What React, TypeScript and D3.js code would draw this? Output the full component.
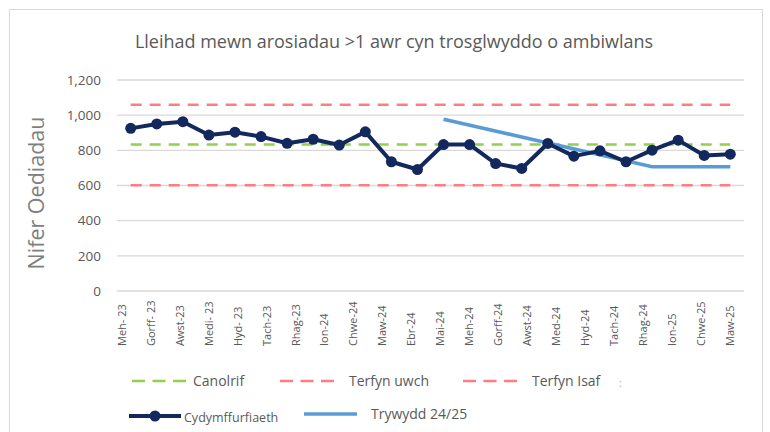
import { useEffect, useRef } from 'react';
import * as d3 from 'd3';

const TITLE = 'Lleihad mewn arosiadau >1 awr cyn trosglwyddo o ambiwlans';
const Y_TITLE = 'Nifer Oediadau';

const MONTHS = [
  'Meh- 23', 'Gorff- 23', 'Awst-23', 'Medi- 23', 'Hyd- 23', 'Tach-23', 'Rhag-23', 'Ion-24',
  'Chwe-24', 'Maw-24', 'Ebr-24', 'Mai-24', 'Meh-24', 'Gorff-24', 'Awst-24', 'Med-24',
  'Hyd-24', 'Tach-24', 'Rhag-24', 'Ion-25', 'Chwe-25', 'Maw-25',
];

// monthly compliance values (24 plotted points)
const VALUES = [
  925, 950, 963, 887, 903, 878, 840, 863, 830, 905, 735, 691,
  833, 833, 725, 697, 839, 767, 797, 735, 801, 858, 771, 778,
];

// trend 24/25: point index -> value
const TREND_IDX = [12, 20, 23];
const TREND_VALUES = [977, 707, 707];

const MEAN = 833;
const UPPER = 1059;
const LOWER = 602;

const Y_TICKS = [0, 200, 400, 600, 800, 1000, 1200];

const FONT = '"Open Sans", "Liberation Sans", sans-serif';
const TEXT = '#595959';
const NAVY = '#13285c';
const BLUE = '#5b9bd5';
const GREEN = '#92d050';
const RED = '#ff7c80';

export default function App() {
  const ref = useRef<SVGSVGElement>(null);

  useEffect(() => {
    if (!ref.current) return;
    const svg = d3.select(ref.current);
    svg.selectAll('*').remove();

    const W = 770, H = 432;
    svg.attr('width', W).attr('height', H).style('font-family', FONT);

    svg.append('rect').attr('width', W).attr('height', H).attr('fill', '#fff');
    svg.append('rect').attr('x', 9.5).attr('y', 9.5).attr('width', 753).attr('height', 430)
      .attr('fill', 'none').attr('stroke', '#d9d9d9');

    const plotLeft = 117, plotRight = 744;
    const y = d3.scaleLinear().domain([0, 1200]).range([291, 80]);
    const idx = VALUES.map((_, i) => i);
    const x = d3.scalePoint<number>().domain(idx).range([130.7, 730.3]);
    const xl = d3.scalePoint<string>().domain(MONTHS).range([121.7, 730]);

    // title
    svg.append('text').attr('x', 394).attr('y', 48).attr('text-anchor', 'middle')
      .attr('fill', TEXT).attr('font-size', 18).text(TITLE);

    // grid + y labels
    const grid = svg.append('g');
    Y_TICKS.forEach(t => {
      grid.append('line').attr('x1', plotLeft).attr('x2', plotRight)
        .attr('y1', y(t)).attr('y2', y(t)).attr('stroke', '#d9d9d9').attr('stroke-width', 1.3);
      grid.append('text').attr('x', 101).attr('y', y(t)).attr('dy', '0.35em')
        .attr('text-anchor', 'end').attr('fill', TEXT).attr('font-size', 13.5)
        .text(d3.format(',')(t));
    });

    svg.append('text')
      .attr('transform', `translate(44,${193}) rotate(-90)`)
      .attr('text-anchor', 'middle').attr('fill', '#7f7f7f').attr('font-size', 21.5)
      .text(Y_TITLE);

    // x labels
    MONTHS.forEach(m => {
      svg.append('text')
        .attr('transform', `translate(${(xl(m) ?? 0) + 4},346) rotate(-90)`)
        .attr('text-anchor', 'start').attr('fill', TEXT).attr('font-size', 11)
        .text(m);
    });

    // reference lines
    const x0 = x(0) ?? 0, x1 = x(VALUES.length - 1) ?? 0;
    [[UPPER, RED], [LOWER, RED], [MEAN, GREEN]].forEach(([v, c]) => {
      svg.append('line').attr('x1', x0).attr('x2', x1)
        .attr('y1', y(v as number)).attr('y2', y(v as number))
        .attr('stroke', c as string).attr('stroke-width', 2.5).attr('stroke-dasharray', '11,8');
    });

    // trend
    const trendLine = d3.line<number>()
      .x((_, i) => x(TREND_IDX[i]) ?? 0)
      .y(v => y(v));
    svg.append('path').datum(TREND_VALUES).attr('d', trendLine)
      .attr('fill', 'none').attr('stroke', BLUE).attr('stroke-width', 3.5);

    // compliance line
    const line = d3.line<number>().x((_, i) => x(i) ?? 0).y(v => y(v));
    svg.append('path').datum(VALUES).attr('d', line)
      .attr('fill', 'none').attr('stroke', NAVY).attr('stroke-width', 4)
      .attr('stroke-linejoin', 'round');
    svg.append('g').selectAll('circle').data(VALUES).join('circle')
      .attr('cx', (_, i) => x(i) ?? 0).attr('cy', v => y(v)).attr('r', 5.5)
      .attr('fill', NAVY);

    // legend
    const lg = svg.append('g');
    const dashItems = [
      { label: 'Canolrif', color: GREEN, x: 132 },
      { label: 'Terfyn uwch', color: RED, x: 280 },
      { label: 'Terfyn Isaf', color: RED, x: 463 },
    ];
    dashItems.forEach(d => {
      lg.append('line').attr('x1', d.x).attr('x2', d.x + 54).attr('y1', 381).attr('y2', 381)
        .attr('stroke', d.color).attr('stroke-width', 2.5).attr('stroke-dasharray', '13,7.5');
      lg.append('text').attr('x', d.x + (d.label === 'Canolrif' ? 61 : 69)).attr('y', 381).attr('dy', '0.35em')
        .attr('fill', TEXT).attr('font-size', 14).text(d.label);
    });
    lg.append('text').attr('x', 619).attr('y', 383).attr('dy', '0.35em')
      .attr('fill', '#a6a6a6').attr('font-size', 10).text(':');

    lg.append('line').attr('x1', 129).attr('x2', 181).attr('y1', 416).attr('y2', 416)
      .attr('stroke', NAVY).attr('stroke-width', 4);
    lg.append('circle').attr('cx', 155).attr('cy', 416).attr('r', 5.5).attr('fill', NAVY);
    lg.append('text').attr('x', 184).attr('y', 418).attr('dy', '0.35em')
      .attr('fill', TEXT).attr('font-size', 12.5).text('Cydymffurfiaeth');

    lg.append('line').attr('x1', 304).attr('x2', 357).attr('y1', 414).attr('y2', 414)
      .attr('stroke', BLUE).attr('stroke-width', 3.5);
    lg.append('text').attr('x', 371).attr('y', 414).attr('dy', '0.35em')
      .attr('fill', TEXT).attr('font-size', 14).text('Trywydd 24/25');
  }, []);

  return (
    <div style={{ position: 'absolute', left: 0, top: 0 }}>
      <svg ref={ref} style={{ display: 'block' }} />
    </div>
  );
}
